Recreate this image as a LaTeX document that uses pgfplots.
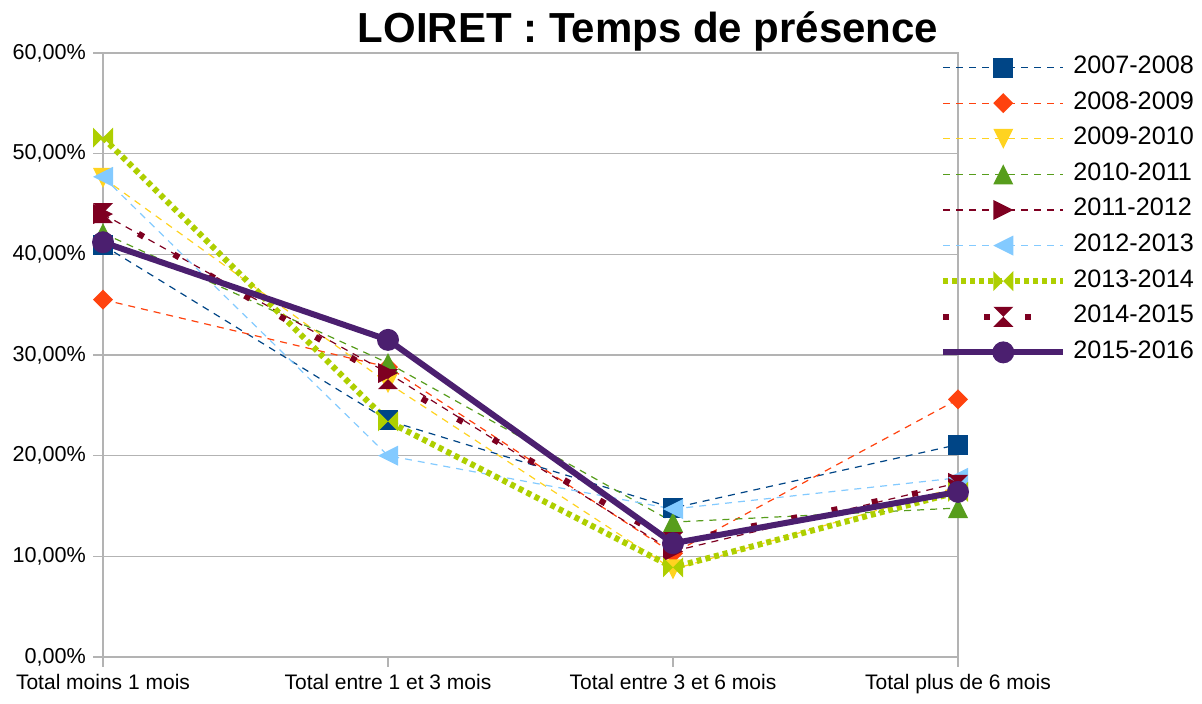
\documentclass[border=0pt]{standalone}
\usepackage{pgfplots}
\pgfplotsset{compat=1.18}
\usepackage{fontspec}
\setmainfont{Liberation Sans}
\definecolor{c1}{HTML}{004586}
\definecolor{c2}{HTML}{FF420E}
\definecolor{c3}{HTML}{FFD320}
\definecolor{c4}{HTML}{579D1C}
\definecolor{c5}{HTML}{7E0021}
\definecolor{c6}{HTML}{83CAFF}
\definecolor{c7}{HTML}{AECF00}
\definecolor{c8}{HTML}{7E0021}
\definecolor{c9}{HTML}{4B1F6F}
\definecolor{gridc}{HTML}{B3B3B3}

\pgfdeclareplotmark{lsq}{\pgfpathrectangle{\pgfqpoint{-\pgfplotmarksize}{-\pgfplotmarksize}}{\pgfqpoint{2\pgfplotmarksize}{2\pgfplotmarksize}}\pgfusepathqfill}
\pgfdeclareplotmark{ldia}{\pgfpathmoveto{\pgfqpoint{0pt}{\pgfplotmarksize}}\pgfpathlineto{\pgfqpoint{\pgfplotmarksize}{0pt}}\pgfpathlineto{\pgfqpoint{0pt}{-\pgfplotmarksize}}\pgfpathlineto{\pgfqpoint{-\pgfplotmarksize}{0pt}}\pgfpathclose\pgfusepathqfill}
\pgfdeclareplotmark{ltdown}{\pgfpathmoveto{\pgfqpoint{-\pgfplotmarksize}{\pgfplotmarksize}}\pgfpathlineto{\pgfqpoint{\pgfplotmarksize}{\pgfplotmarksize}}\pgfpathlineto{\pgfqpoint{0pt}{-\pgfplotmarksize}}\pgfpathclose\pgfusepathqfill}
\pgfdeclareplotmark{ltup}{\pgfpathmoveto{\pgfqpoint{-\pgfplotmarksize}{-\pgfplotmarksize}}\pgfpathlineto{\pgfqpoint{\pgfplotmarksize}{-\pgfplotmarksize}}\pgfpathlineto{\pgfqpoint{0pt}{\pgfplotmarksize}}\pgfpathclose\pgfusepathqfill}
\pgfdeclareplotmark{ltright}{\pgfpathmoveto{\pgfqpoint{-\pgfplotmarksize}{-\pgfplotmarksize}}\pgfpathlineto{\pgfqpoint{-\pgfplotmarksize}{\pgfplotmarksize}}\pgfpathlineto{\pgfqpoint{\pgfplotmarksize}{0pt}}\pgfpathclose\pgfusepathqfill}
\pgfdeclareplotmark{ltleft}{\pgfpathmoveto{\pgfqpoint{\pgfplotmarksize}{-\pgfplotmarksize}}\pgfpathlineto{\pgfqpoint{\pgfplotmarksize}{\pgfplotmarksize}}\pgfpathlineto{\pgfqpoint{-\pgfplotmarksize}{0pt}}\pgfpathclose\pgfusepathqfill}
\pgfdeclareplotmark{lbowtie}{\pgfpathmoveto{\pgfqpoint{-\pgfplotmarksize}{-\pgfplotmarksize}}\pgfpathlineto{\pgfqpoint{-\pgfplotmarksize}{\pgfplotmarksize}}\pgfpathlineto{\pgfqpoint{0pt}{0pt}}\pgfpathclose\pgfpathmoveto{\pgfqpoint{\pgfplotmarksize}{-\pgfplotmarksize}}\pgfpathlineto{\pgfqpoint{\pgfplotmarksize}{\pgfplotmarksize}}\pgfpathlineto{\pgfqpoint{0pt}{0pt}}\pgfpathclose\pgfusepathqfill}
\pgfdeclareplotmark{lhour}{\pgfpathmoveto{\pgfqpoint{-\pgfplotmarksize}{\pgfplotmarksize}}\pgfpathlineto{\pgfqpoint{\pgfplotmarksize}{\pgfplotmarksize}}\pgfpathlineto{\pgfqpoint{0pt}{0pt}}\pgfpathclose\pgfpathmoveto{\pgfqpoint{-\pgfplotmarksize}{-\pgfplotmarksize}}\pgfpathlineto{\pgfqpoint{\pgfplotmarksize}{-\pgfplotmarksize}}\pgfpathlineto{\pgfqpoint{0pt}{0pt}}\pgfpathclose\pgfusepathqfill}
\pgfdeclareplotmark{lcirc}{\pgfpathcircle{\pgfpointorigin}{\pgfplotmarksize}\pgfusepathqfill}

\begin{document}
\begin{tikzpicture}
\begin{axis}[
  at={(51.5pt,23.5pt)}, anchor=south west,
  scale only axis, width=427.5pt, height=302pt,
  xmin=0, xmax=3, ymin=0, ymax=60,
  clip=false,
  xtick={0,1,2,3},
  xticklabels={Total moins 1 mois, Total entre 1 et 3 mois, Total entre 3 et 6 mois, Total plus de 6 mois},
  ytick={0,10,20,30,40,50,60},
  yticklabels={{0,00\%},{10,00\%},{20,00\%},{30,00\%},{40,00\%},{50,00\%},{60,00\%}},
  xtick pos=bottom, ytick pos=left,
  tick align=outside, major tick length=5pt,
  tick style={gridc, line width=0.6pt},
  axis line style={gridc, line width=0.6pt},
  ymajorgrids, grid style={gridc, line width=0.6pt},
  tick label style={font=\fontsize{10.5}{12}\selectfont, black},
  yticklabel style={font=\fontsize{10.8}{12}\selectfont},
  legend image code/.code={\draw[mark repeat=2,mark phase=2,#1] plot coordinates {(0pt,0pt) (30pt,0pt) (60pt,0pt)};},
  legend style={at={(rel axis cs:0.9718,1.003)}, anchor=north west, draw=none, fill=none,
    font=\fontsize{12.6}{14}\selectfont, row sep=5.8pt,
    nodes={inner sep=0pt, text height=9pt, text depth=3pt},
    /tikz/every odd column/.append style={column sep=3.5pt}},
  legend cell align=left,
  every axis plot/.append style={mark size=5pt},
]
\addplot[c1, line width=0.6pt, dash pattern=on 3.5pt off 3pt, mark=lsq, mark options={solid, fill=c1}]
  coordinates {(0,40.9) (1,23.5) (2,14.8) (3,21.1)};
\addlegendentry{2007-2008}
\addplot[c2, line width=0.6pt, dash pattern=on 3.5pt off 3pt, mark=ldia, mark options={solid, fill=c2}]
  coordinates {(0,35.5) (1,28.8) (2,10.3) (3,25.6)};
\addlegendentry{2008-2009}
\addplot[c3, line width=0.6pt, dash pattern=on 3.5pt off 3pt, mark=ltdown, mark options={solid, fill=c3}]
  coordinates {(0,47.6) (1,27.2) (2,8.7) (3,16.9)};
\addlegendentry{2009-2010}
\addplot[c4, line width=0.6pt, dash pattern=on 3.5pt off 3pt, mark=ltup, mark options={solid, fill=c4}]
  coordinates {(0,42.1) (1,29.2) (2,13.4) (3,14.8)};
\addlegendentry{2010-2011}
\addplot[c5, line width=0.6pt, dash pattern=on 3.5pt off 3pt, mark=ltright, mark options={solid, fill=c5}]
  coordinates {(0,44.0) (1,28.2) (2,10.5) (3,17.3)};
\addlegendentry{2011-2012}
\addplot[c6, line width=0.6pt, dash pattern=on 3.5pt off 3pt, mark=ltleft, mark options={solid, fill=c6}]
  coordinates {(0,47.7) (1,20.0) (2,14.7) (3,17.8)};
\addlegendentry{2012-2013}
\addplot[c7, line width=3pt, dash pattern=on 2.5pt off 2pt, mark=lbowtie, mark options={solid, fill=c7}]
  coordinates {(0,51.6) (1,23.4) (2,8.9) (3,16.4)};
\addlegendentry{2013-2014}
\addplot[c8, line width=3pt, dash pattern=on 3pt off 17.5pt, mark=lhour, mark options={solid, fill=c8}]
  coordinates {(0,44.1) (1,27.6) (2,11.4) (3,17.1)};
\addlegendentry{2014-2015}
\addplot[c9, line width=3pt, mark=lcirc, mark options={solid, fill=c9}, mark size=5.5pt]
  coordinates {(0,41.2) (1,31.5) (2,11.3) (3,16.4)};
\addlegendentry{2015-2016}
\end{axis}
\node[font=\bfseries\fontsize{21}{25}\selectfont, anchor=base] at (324pt,330.5pt) {LOIRET : Temps de présence};
\pgfresetboundingbox
\path[use as bounding box] (0,0) rectangle (601pt,352pt);
\end{tikzpicture}
\end{document}
